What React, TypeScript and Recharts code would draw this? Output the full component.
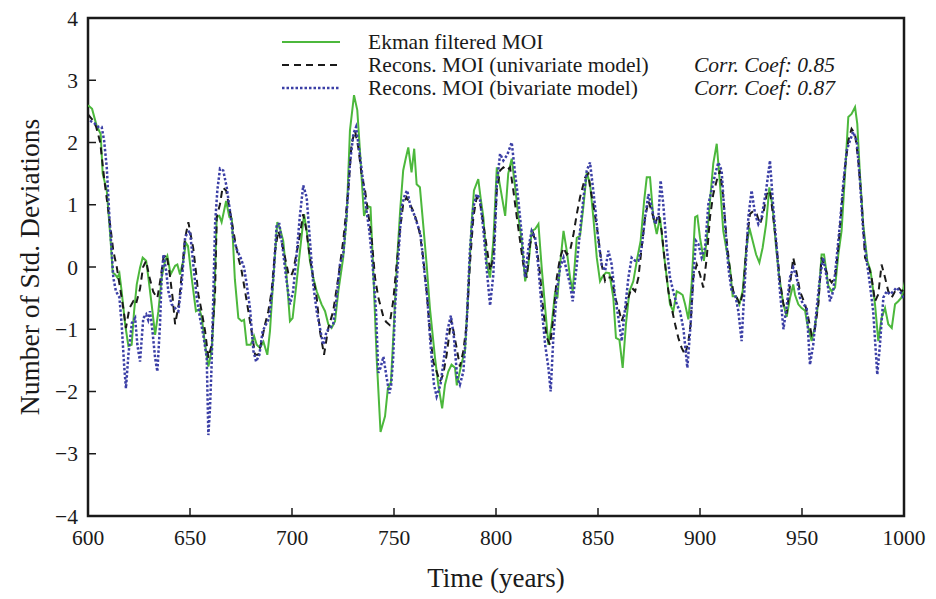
import React from 'react';
import { LineChart, Line, XAxis, YAxis, Legend, ReferenceArea } from 'recharts';

// [year, std. deviations]
const ekman: [number, number][] = [
  [600, 2.6], [602, 2.54], [604.3, 2.26], [606.2, 2.14], [607.2, 1.5], [609.2, 1.23], [611.1, 0.42], [612.1, -0.09],
  [613.3, -0.12], [614.4, -0.17], [615.4, -0.1], [616.5, -0.39], [618.2, -0.92], [619.8, -1.27], [621.4, -1.25],
  [622.6, -0.71], [623.9, -0.28], [625.5, -0.01], [626.8, 0.15], [628.5, 0.1], [629.6, -0.17], [631.2, -0.6],
  [632.9, -1.09], [634.5, -0.71], [636.1, -0.17], [637.8, 0.1], [638.9, 0.18], [640.5, -0.12], [642.7, 0.02],
  [643.8, 0.04], [645.1, -0.12], [646.7, 0.1], [648, 0.39], [649, 0.34], [650.8, -0.17], [652.9, -0.71],
  [654.6, -0.68], [655.7, -0.8], [657.4, -1.25], [659, -1.6], [660.6, -1.35], [661.8, -0.66], [663.1, 0.8],
  [664.4, 0.82], [665.5, 0.72], [667.7, 1.06], [669.3, 0.8], [670.5, 0.78], [672, -0.2], [673.7, -0.82],
  [675.3, -0.87], [676.5, -0.85], [677.8, -1.25], [679.7, -1.25], [681.4, -1.11], [682.7, -1.25], [684.3, -1.3],
  [686, -1.2], [687.9, -1.41], [689.2, -1.03], [690.8, -0.2], [692.8, 0.72], [694.1, 0.62], [695.7, 0.42],
  [697.4, -0.17], [699, -0.87], [700.3, -0.82], [702.3, -0.23], [703.9, 0.26], [705.9, 0.85], [707.2, 0.58],
  [708.8, 0.1], [710.4, -0.17], [712.1, -0.39], [714.5, -0.6], [716.2, -0.71], [717.8, -0.92], [719.4, -0.98],
  [721.1, -0.87], [722.7, -0.39], [725.1, 0.15], [726.8, 0.8], [728.4, 2.19], [730.4, 2.76], [732, 2.52],
  [733.3, 1.87], [735.3, 0.82], [736.9, 0.98], [738.5, 0.96], [739.9, -0.12], [741.5, -1.46], [743.4, -2.65],
  [745.6, -2.4], [747, -1.95], [748.5, -1.85], [750, -0.9], [751.5, 0.1], [753, 0.9], [754.5, 1.55], [755.8, 1.75],
  [757, 1.92], [758.6, 1.52], [759.9, 1.9], [761.1, 1.33], [762.7, 1.28], [764.3, 0.69], [766, 0.04], [767.6, -0.66],
  [770.1, -1.46], [771.7, -1.89], [773.6, -2.27], [775, -1.89], [776.6, -1.68], [778.2, -1.57], [779.9, -1.62],
  [780.8, -1.9], [783.1, -1.55], [784.8, -1.35], [786.4, -0.39], [788, 0.69], [789.2, 1.23], [791.3, 1.41],
  [792.5, 1.1], [793.8, 0.8], [795.5, 0.04], [797.1, -0.17], [798.7, 0.42], [800.4, 1.6], [802, 1.3], [804.5, 0.82],
  [806, 1.5], [807.7, 1.74], [809.4, 1.28], [811, 0.8], [812.6, 0.42], [814.3, -0.23], [815.9, 0.04], [817.5, 0.58],
  [819.2, 0.61], [820.8, 0.69], [822.4, -0.01], [824.1, -0.66], [825.7, -1.25], [827.3, -0.92], [829, -0.39],
  [830.1, -0.5], [831.4, 0.04], [833.1, 0.58], [834.7, 0.26], [836.3, -0.17], [837.6, -0.39], [839.6, 0.47],
  [841.2, 0.5], [842.8, 0.96], [844.5, 1.52], [846.1, 1.33], [847.7, 0.8], [849.4, 0.15], [851, -0.23],
  [852.3, -0.15], [853.9, -0.09], [855.6, -0.1], [857.5, -0.49], [858.8, -1.14], [860.5, -1.17], [862.1, -1.62],
  [863.7, -0.92], [865.4, -0.39], [867.3, -0.23], [869.3, 0.15], [870.9, 0.42], [872.6, 1.06], [873.9, 1.44],
  [875.5, 1.44], [877.1, 0.8], [878.8, 0.53], [880.4, 0.8], [882.1, 0.26], [883.7, -0.17], [885.3, -0.6],
  [886.9, -0.71], [888.6, -0.39], [890.2, -0.42], [891.5, -0.45], [892.7, -0.6], [894.3, -0.84], [895.9, -0.28],
  [897.6, 0.8], [898.7, 0.82], [900, 0.47], [901.9, 0.1], [903.3, 0.42], [904.9, 1.06], [906.5, 1.66], [908.2, 1.98],
  [909.8, 1.33], [911.4, 0.58], [913.1, 0.26], [914.7, -0.01], [916, -0.47], [917.7, -0.47], [919.3, -0.6],
  [920.9, -0.39], [922.6, 0.26], [924.2, 0.63], [925.8, 0.42], [927.5, 0.2], [929.1, 0.07], [930.7, 0.31],
  [932.4, 0.69], [934, 1.28], [935.6, 0.96], [937.3, 0.31], [938.9, -0.17], [940.9, -0.6], [942.5, -0.8],
  [944.1, -0.5], [945.7, -0.28], [946.6, -0.45], [948.2, -0.6], [949.8, -0.66], [951.5, -0.7], [952.5, -0.9],
  [954.7, -1.19], [956.2, -0.98], [957.9, -0.6], [959.6, 0.2], [960.8, 0.2], [962.9, -0.3], [964.5, -0.39],
  [966.2, -0.33], [967.8, 0.2], [969.4, 0.58], [971.1, 1.5], [972.7, 2.41], [974.3, 2.46], [976, 2.57], [977.1, 2.3],
  [978.4, 1.49], [980, 0.69], [982, 0.1], [983.6, -0.06], [985.8, -0.6], [987.4, -1.19], [989, -0.82],
  [990.7, -0.66], [992.3, -0.92], [994, -0.98], [995.6, -0.6], [997.2, -0.55], [998.8, -0.49], [1000.5, -0.23],
];

const univariate: [number, number][] = [
  [600, 2.45], [602.6, 2.35], [604, 2.25], [606, 2.0], [608, 1.4], [610.8, 0.69], [612.4, 0.26], [614.1, 0.0],
  [615.7, -0.33], [617.3, -0.66], [618.6, -0.98], [620.3, -0.66], [622.2, -0.55], [623.5, -0.6], [625.5, -0.35],
  [627, 0.0], [628.5, 0.1], [630, -0.15], [632, -0.4], [634, -0.5], [635.5, -0.2], [637, 0.15], [638.5, 0.2],
  [640, -0.1], [641.5, -0.5], [642.7, -0.92], [644.5, -0.6], [646, -0.1], [647.5, 0.45], [649.2, 0.72],
  [651.6, 0.3], [653, -0.1], [654.1, -0.44], [655.7, -0.71], [657.4, -1.03], [659, -1.46], [660.6, -1.25],
  [662.3, -0.39], [663.1, 0.8], [664.7, 1.01], [666, 1.28], [667.7, 1.23], [669.6, 0.9], [672.1, 0.42],
  [673.7, 0.15], [675.3, -0.06], [677, -0.39], [678.6, -0.71], [680.2, -1.03], [681.9, -1.41], [683.5, -1.41],
  [685.1, -1.19], [686.8, -0.92], [688.4, -0.71], [690, -0.39], [691.7, 0.26], [693.3, 0.58], [694.9, 0.4],
  [696.6, 0.15], [698.2, -0.1], [699.5, -0.15], [700.6, -0.06], [703.1, 0.37], [705.5, 0.85], [707, 0.6],
  [708.8, 0.15], [710.4, -0.17], [712.1, -0.49], [713.7, -1.03], [715.7, -1.41], [717.8, -0.98], [720.2, -0.71],
  [722.7, -0.17], [725.1, 0.42], [727.6, 1.23], [729.2, 1.98], [730.9, 2.19], [732.5, 1.92], [734.1, 1.49],
  [735.8, 1.23], [737.4, 0.85], [739, 0.47], [740.7, -0.17], [742.3, -0.49], [744.8, -0.8], [746.1, -0.88],
  [747.8, -0.93], [749.6, -0.55], [751.3, 0.04], [752.9, 0.58], [754.5, 1.01], [756.2, 1.12], [757.8, 1.01],
  [759.4, 0.9], [761.1, 0.74], [762.7, 0.53], [764.3, 0.15], [766, -0.39], [767.6, -1.03], [769.2, -1.52],
  [770.9, -1.68], [772.5, -1.84], [774.1, -1.73], [775.8, -1.41], [778, -0.85], [779, -1.0], [780.7, -1.3],
  [782.3, -1.6], [784, -1.35], [785.6, -0.92], [787.2, 0.04], [788.9, 0.8], [790.5, 1.12], [792.1, 1.05],
  [793.8, 0.69], [795.5, 0.31], [797.1, -0.06], [798.7, 0.15], [800.4, 1.23], [802, 1.55], [803.6, 1.6],
  [805.3, 1.55], [806.9, 1.6], [808.5, 1.23], [810.2, 0.8], [811.8, 0.42], [813.4, 0.04], [815.1, -0.17],
  [816.7, 0.37], [818.3, 0.53], [820, 0.31], [821.6, -0.12], [823.2, -0.71], [824.9, -1.14], [826.5, -1.25],
  [828.1, -0.82], [829.8, -0.17], [831.4, 0.15], [833.1, 0.31], [834.7, 0.2], [836.3, 0.26], [838, 0.53],
  [839.6, 0.85], [841.2, 1.12], [843.7, 1.44], [845.3, 1.5], [846.1, 1.28], [847.7, 1.01], [850.2, 0.47],
  [851.8, 0.04], [853.5, -0.23], [855.1, -0.17], [856.7, -0.17], [858.4, -0.49], [860, -0.66], [861.6, -0.87],
  [863.3, -0.71], [864.9, -0.49], [866.5, -0.33], [868.2, -0.39], [869.8, -0.17], [871.4, 0.31], [873.1, 0.8],
  [874.7, 1.06], [876.3, 0.9], [878, 0.69], [879.6, 0.85], [881.2, 0.58], [882.9, 0.04], [884.5, -0.39],
  [886.1, -0.66], [887.8, -0.92], [889.4, -1.14], [891, -1.3], [892.7, -1.41], [894.3, -1.2], [895.4, -0.92],
  [896.7, -0.17], [898.4, 0.04], [900, -0.12], [901.6, -0.33], [903.3, 0.15], [904.9, 0.8], [906.5, 1.17],
  [908.2, 1.39], [909.8, 1.55], [911.4, 1.12], [913.1, 0.42], [914.7, -0.06], [916.3, -0.39], [918, -0.49],
  [919.6, -0.6], [921.2, -0.39], [922.9, 0.42], [924.5, 0.85], [926.1, 0.9], [927.8, 0.85], [929.4, 0.69],
  [931, 0.85], [932.7, 1.17], [934.3, 1.23], [935.9, 0.8], [937.6, 0.31], [939.2, -0.23], [940.9, -0.6],
  [942.5, -0.75], [944.1, -0.3], [945.7, 0.15], [947.4, -0.1], [949, -0.39], [951.5, -0.6], [953, -0.8],
  [954.7, -1.09], [956.3, -1.0], [958, -0.6], [959.6, 0.15], [961.2, 0.0], [962.9, -0.17], [964.5, -0.25],
  [966.2, -0.17], [967.8, 0.31], [969.4, 0.96], [971.1, 1.6], [972.7, 2.03], [974.3, 2.22], [976, 2.14],
  [977.6, 1.71], [979.2, 1.06], [980.9, 0.15], [982.5, 0.04], [984.1, -0.17], [985.8, -0.55], [987.4, -0.44],
  [989, 0.04], [990.7, -0.17], [992.3, -0.39], [994, -0.49], [995.6, -0.39], [997.2, -0.33], [998.8, -0.39],
  [1000.5, -0.35],
];

const bivariate: [number, number][] = [
  [601, 2.35], [603.5, 2.3], [605.1, 2.25], [606.7, 2.25], [607.9, 2.03], [609.2, 1.6], [610.5, 0.8], [611.6, 0.26],
  [612.4, -0.17], [613.7, -0.39], [615.4, -0.49], [616.5, -0.92], [617.7, -1.57], [618.6, -1.95], [619.8, -1.41],
  [621.5, -0.9], [623.1, -0.82], [624.2, -1.25], [625.5, -1.52], [627.1, -0.82], [628.5, -0.76], [629.5, -0.85],
  [630.4, -0.71], [631.5, -1.0], [632.9, -1.46], [634, -1.68], [635.3, -0.92], [636.1, -0.17], [637, 0.2],
  [638.3, -0.06], [639.4, -0.39], [641, -0.6], [642.7, -0.66], [644.3, -0.71], [645.9, -0.28], [647.6, 0.47],
  [648.7, 0.55], [650, 0.58], [651.6, 0.04], [653.3, -0.49], [654.9, -0.82], [656.5, -1.09], [658.2, -1.46],
  [659, -2.7], [659.8, -2.27], [660.6, -1.57], [661.4, -0.49], [662.3, 0.69], [663.4, 1.23], [664.7, 1.58],
  [666.3, 1.55], [668, 1.28], [669.6, 0.9], [671.2, 0.47], [673.2, 0.26], [674.8, 0.15], [676.5, -0.01],
  [677.8, -0.28], [679.4, -0.66], [681.1, -1.35], [682.4, -1.52], [684, -1.41], [685.6, -1.03], [687.3, -0.92],
  [688.9, -0.82], [690.9, -0.17], [692.5, 0.69], [693.8, 0.69], [695.4, 0.31], [697.1, -0.17], [699, -0.6],
  [700.5, -0.4], [702, 0.1], [703.8, 0.8], [705.5, 1.31], [707.2, 1.12], [708.8, 0.42], [710.4, -0.28],
  [712.1, -0.71], [713.7, -0.98], [715.3, -1.25], [717, -1.03], [718.6, -0.98], [720.2, -0.92], [721.9, -0.49],
  [723.5, 0.04], [725.1, 0.2], [726.8, 0.85], [728.4, 1.66], [730.1, 2.14], [731.4, 2.25], [733, 1.87],
  [734.6, 1.44], [736.3, 0.96], [737.9, 0.58], [739.5, 0.04], [741.2, -0.71], [742.3, -1.7], [743.4, -1.62],
  [744.8, -1.44], [746.5, -1.8], [747.7, -2.03], [748.6, -1.9], [749.6, -1.46], [750.5, -0.66], [752.1, 0.15],
  [753.7, 0.96], [755.4, 1.17], [756.5, 1.23], [758.1, 0.96], [759.8, 0.85], [761.4, 0.69], [763, 0.53],
  [764.7, -0.01], [766.3, -0.49], [767.9, -1.25], [769.6, -1.89], [770.9, -2.08], [772.8, -1.89], [774.5, -1.46],
  [776.1, -1.03], [777.9, -0.78], [779.4, -1.14], [781, -1.78], [782.3, -1.89], [784, -1.68], [785.6, -0.92],
  [787.2, 0.26], [788.9, 0.96], [790.5, 1.17], [792.1, 1.1], [793.8, 0.6], [795.5, -0.05], [797.1, -0.62],
  [798.7, -0.12], [800.4, 1.33], [802, 1.82], [803.6, 1.71], [805.5, 1.8], [807.7, 2.0], [809.4, 1.49], [811, 1.06],
  [812.6, 0.53], [814.3, -0.17], [815.9, 0.31], [817.5, 0.58], [819.2, 0.47], [820.8, -0.01], [822.4, -0.66],
  [824.1, -1.25], [825.7, -1.62], [826.8, -2.0], [828.1, -1.14], [829.8, -0.39], [831.4, -0.01], [833.1, 0.15],
  [834.7, -0.06], [836.3, -0.28], [837.6, -0.55], [839.6, 0.04], [841.2, 0.58], [842.9, 1.12], [844.5, 1.55],
  [846.1, 1.68], [848.6, 0.96], [850.2, 0.42], [851.8, 0.04], [853.5, -0.06], [855.1, 0.26], [856.7, 0.04],
  [858.4, -0.49], [860, -0.82], [861.6, -1.19], [863.3, -0.66], [864.9, -0.17], [866.5, 0.15], [868.2, 0.1],
  [869.8, 0.1], [871.4, 0.31], [873.1, 0.8], [874.7, 1.17], [876.3, 0.96], [878, 0.69], [879.6, 0.8], [880.7, 1.39],
  [882, 1.01], [883.7, 0.31], [885.3, -0.17], [886.9, -0.39], [888.6, -0.6], [890.2, -0.71], [891.9, -1.0],
  [893.8, -1.62], [895.4, -0.92], [896.7, -0.17], [898, 0.42], [899.2, 0.37], [900.8, 0.15], [902.5, 0.31],
  [904.1, 1.01], [905.7, 1.23], [907.4, 1.49], [909, 1.68], [910.6, 1.55], [912.3, 0.69], [913.9, -0.01],
  [915.5, -0.39], [917.2, -0.44], [918.8, -0.71], [920.4, -1.19], [922.1, -0.17], [923.7, 0.8], [925.3, 1.23],
  [927, 0.85], [928.6, 0.69], [930.2, 0.8], [932.4, 1.23], [934.3, 1.71], [935.9, 0.96], [937.6, 0.31],
  [939.2, -0.39], [940.9, -1.0], [942.5, -0.63], [944.1, -0.17], [945.7, -0.01], [947.4, -0.17], [949, -0.49],
  [950.6, -0.6], [952.3, -0.65], [953.9, -1.57], [955.5, -1.25], [957.2, -0.66], [958.8, -0.17], [960.4, 0.15],
  [962.1, -0.17], [963.7, -0.55], [965.3, -0.39], [967, 0.15], [968.6, 0.69], [970.2, 1.33], [971.9, 1.87],
  [973.5, 2.03], [975.1, 2.17], [976.8, 2.03], [978.4, 1.39], [980, 0.58], [981.7, 0.1], [983.3, -0.28],
  [984.9, -0.71], [986.9, -1.73], [988.2, -1.25], [989.9, -0.49], [991.5, -0.39], [993.1, -0.44], [994.8, -0.39],
  [996.4, -0.33], [998, -0.39], [999.7, -0.49], [1000.5, -0.5],
];

const xTicks = [600, 650, 700, 750, 800, 850, 900, 950, 1000];
const yTicks = [-4, -3, -2, -1, 0, 1, 2, 3, 4];

const legendItems = [
  { name: 'Ekman filtered MOI', color: '#4cb83c', dash: undefined, width: 2, note: '' },
  { name: 'Recons. MOI (univariate model)', color: '#1a1a1a', dash: '7 5', width: 2, note: 'Corr. Coef: 0.85' },
  { name: 'Recons. MOI (bivariate model)', color: '#3b3fa6', dash: '2.5 2', width: 2.5, note: 'Corr. Coef: 0.87' },
];

const toRows = (pts: [number, number][]) => pts.map(([year, value]) => ({ year, value }));

const fmtY = (v: number) => (v < 0 ? `\u2212${Math.abs(v)}` : `${v}`);
const noLabel = () => '';

const tickStyle = { fill: '#1a1a1a', fontSize: 21.5 };
const tickLineStyle = { stroke: '#1a1a1a', strokeWidth: 1.5 };

const LegendBox = () => (
  <div style={{ fontFamily: '"Liberation Serif", serif', fontSize: 21.5, color: '#1a1a1a' }}>
    {legendItems.map((it) => (
      <div key={it.name} style={{ position: 'relative', height: 23, lineHeight: '22px' }}>
        <svg width={60} height={22} style={{ position: 'absolute', left: 0, top: 0 }}>
          <line x1={0} y1={11} x2={58} y2={11} stroke={it.color} strokeWidth={it.width} strokeDasharray={it.dash} />
        </svg>
        <span style={{ position: 'absolute', left: 86, top: 0, whiteSpace: 'nowrap' }}>{it.name}</span>
        <span style={{ position: 'absolute', left: 412, top: 0, whiteSpace: 'nowrap', fontStyle: 'italic' }}>{it.note}</span>
      </div>
    ))}
  </div>
);

export default function App() {
  return (
    <div style={{ position: 'absolute', left: 0, top: 0, width: 936, height: 599, background: '#fff', fontFamily: '"Liberation Serif", serif' }}>
      <LineChart width={936} height={599} margin={{ top: 18, right: 32, bottom: 9, left: 0 }}>
        <XAxis
          type="number"
          dataKey="year"
          domain={[600, 1000]}
          ticks={xTicks}
          allowDataOverflow
          axisLine={false}
          tickSize={-8}
          tickMargin={22}
          tick={tickStyle}
          tickLine={tickLineStyle}
          height={74}
          label={{ value: 'Time (years)', position: 'insideBottom', offset: 3, fontSize: 27, fill: '#1a1a1a' }}
        />
        <XAxis
          xAxisId="top"
          orientation="top"
          type="number"
          dataKey="year"
          domain={[600, 1000]}
          ticks={xTicks}
          allowDataOverflow
          axisLine={false}
          tickSize={-8}
          tickFormatter={noLabel}
          tickLine={tickLineStyle}
          height={0}
        />
        <YAxis
          type="number"
          domain={[-4, 4]}
          ticks={yTicks}
          allowDataOverflow
          axisLine={false}
          tickSize={-8}
          tickMargin={18}
          tick={tickStyle}
          tickLine={tickLineStyle}
          tickFormatter={fmtY}
          width={88}
          label={{ value: 'Number of Std. Deviations', angle: -90, position: 'center', dx: -15, fontSize: 27.5, fill: '#1a1a1a' }}
        />
        <YAxis
          yAxisId="right"
          orientation="right"
          type="number"
          domain={[-4, 4]}
          ticks={yTicks}
          allowDataOverflow
          axisLine={false}
          tickSize={-8}
          tickFormatter={noLabel}
          tickLine={tickLineStyle}
          width={0}
        />
        <ReferenceArea x1={600} x2={1000} y1={-4} y2={4} fill="none" stroke="#1a1a1a" strokeWidth={2.5} fillOpacity={0} />
        <Line data={toRows(ekman)} dataKey="value" name="Ekman filtered MOI" stroke="#4cb83c" strokeWidth={2} dot={false} isAnimationActive={false} />
        <Line data={toRows(univariate)} dataKey="value" name="Recons. MOI (univariate model)" stroke="#1a1a1a" strokeWidth={2} strokeDasharray="7 5" dot={false} isAnimationActive={false} />
        <Line data={toRows(bivariate)} dataKey="value" name="Recons. MOI (bivariate model)" stroke="#3b3fa6" strokeWidth={2.5} strokeDasharray="2.5 2" dot={false} isAnimationActive={false} />
        <Legend
          layout="vertical"
          align="center"
          verticalAlign="middle"
          content={() => <LegendBox />}
          wrapperStyle={{ top: 31, left: 282, width: 600 }}
        />
      </LineChart>
    </div>
  );
}
